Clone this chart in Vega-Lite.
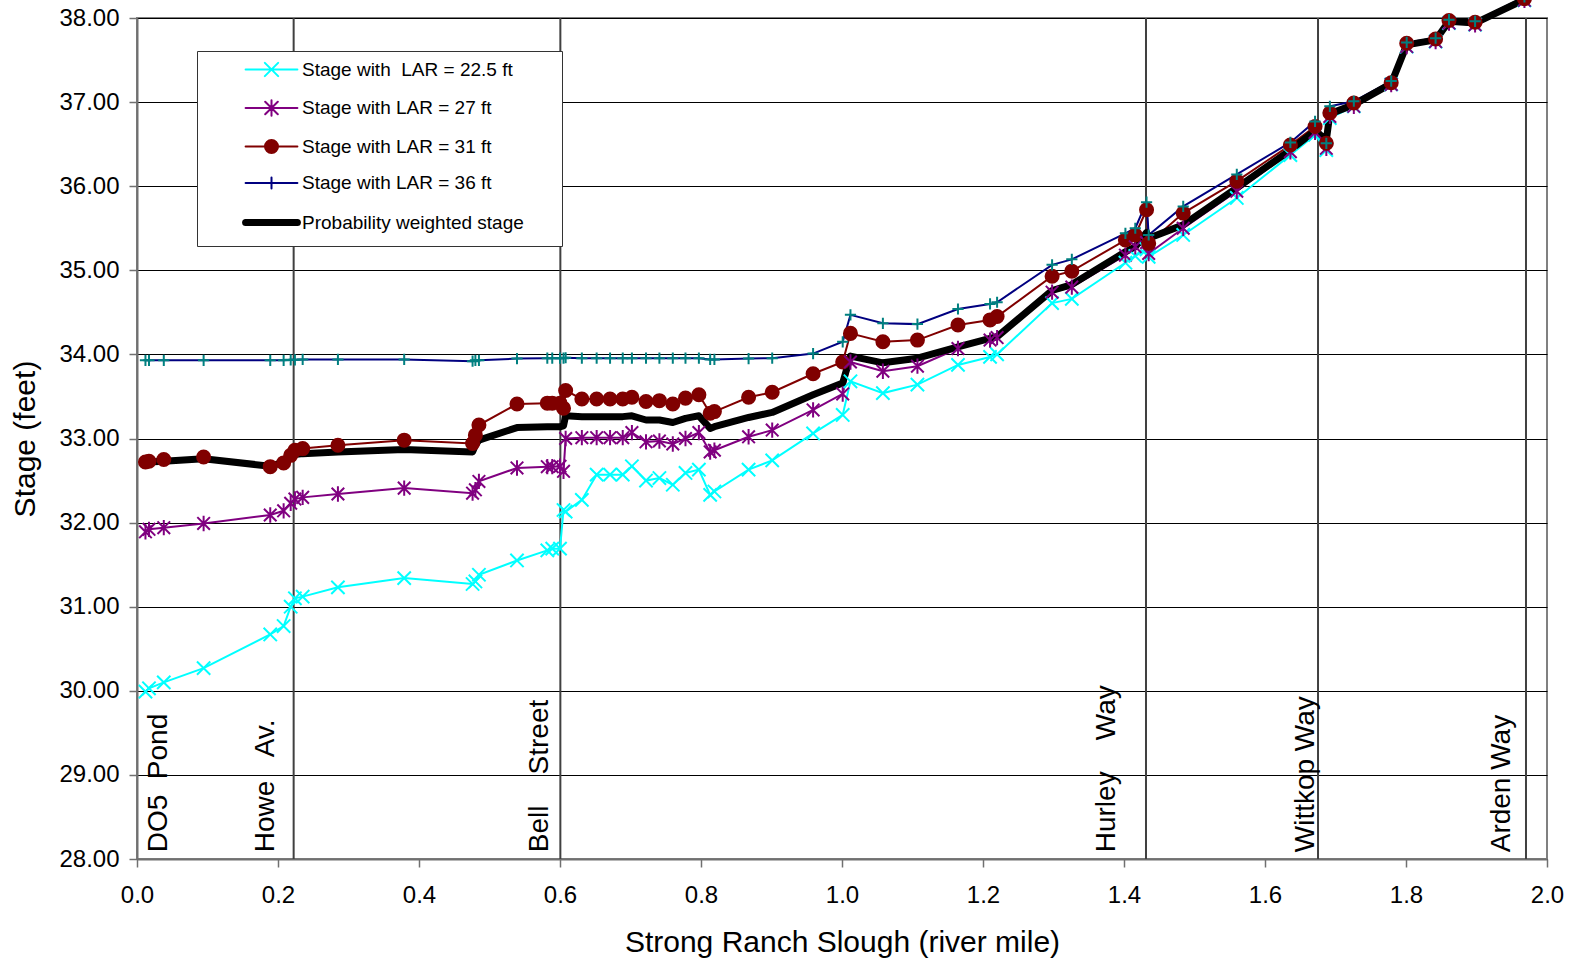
{
  "$schema": "https://vega.github.io/schema/vega-lite/v6.json",
  "width": 1410,
  "height": 841,
  "autosize": {"type": "none"},
  "padding": {"left": 137, "top": 18, "right": 30, "bottom": 102},
  "background": "white",
  "config": {
    "font": "Liberation Sans",
    "view": {"stroke": "#808080", "strokeWidth": 2},
    "axis": {
      "labelFont": "Liberation Sans",
      "titleFont": "Liberation Sans",
      "labelColor": "#000000",
      "titleColor": "#000000",
      "titleFontWeight": "normal",
      "labelFontSize": 24,
      "titleFontSize": 30,
      "tickSize": 8,
      "tickColor": "#707070",
      "tickWidth": 1.5,
      "domainColor": "#707070",
      "domainWidth": 2,
      "labelFlush": false,
      "labelOverlap": false
    },
    "axisX": {"grid": false, "labelPadding": 16, "titlePadding": 20},
    "axisY": {"grid": true, "gridColor": "#000000", "gridWidth": 1, "labelPadding": 10, "titlePadding": 18},
    "legend": {"labelFont": "Liberation Sans", "titleFont": "Liberation Sans"}
  },
  "datasets": {
    "stages": [
      {"mile": 0.012, "s225": 29.99, "s27": 31.89, "s31": 32.72, "s36": 33.93, "pw": 32.72},
      {"mile": 0.017, "s225": 30.03, "s27": 31.92, "s31": 32.73, "s36": 33.93, "pw": 32.72},
      {"mile": 0.038, "s225": 30.10, "s27": 31.94, "s31": 32.75, "s36": 33.93, "pw": 32.73},
      {"mile": 0.0945, "s225": 30.27, "s27": 31.99, "s31": 32.78, "s36": 33.93, "pw": 32.76},
      {"mile": 0.189, "s225": 30.67, "s27": 32.09, "s31": 32.665, "s36": 33.93, "pw": 32.67},
      {"mile": 0.208, "s225": 30.77, "s27": 32.14, "s31": 32.71, "s36": 33.93, "pw": 32.72},
      {"mile": 0.218, "s225": 31.00, "s27": 32.23, "s31": 32.80, "s36": 33.935, "pw": 32.78},
      {"mile": 0.224, "s225": 31.10, "s27": 32.28, "s31": 32.86, "s36": 33.935, "pw": 32.81},
      {"mile": 0.235, "s225": 31.12, "s27": 32.30, "s31": 32.88, "s36": 33.94, "pw": 32.82},
      {"mile": 0.285, "s225": 31.23, "s27": 32.34, "s31": 32.92, "s36": 33.94, "pw": 32.84},
      {"mile": 0.379, "s225": 31.34, "s27": 32.41, "s31": 32.98, "s36": 33.94, "pw": 32.87},
      {"mile": 0.476, "s225": 31.27, "s27": 32.35, "s31": 32.94, "s36": 33.92, "pw": 32.84},
      {"mile": 0.480, "s225": 31.30, "s27": 32.39, "s31": 33.04, "s36": 33.93, "pw": 32.92},
      {"mile": 0.485, "s225": 31.38, "s27": 32.49, "s31": 33.16, "s36": 33.93, "pw": 32.98},
      {"mile": 0.539, "s225": 31.55, "s27": 32.65, "s31": 33.41, "s36": 33.95, "pw": 33.13},
      {"mile": 0.582, "s225": 31.67, "s27": 32.665, "s31": 33.42, "s36": 33.955, "pw": 33.14},
      {"mile": 0.589, "s225": 31.69, "s27": 32.665, "s31": 33.42, "s36": 33.955, "pw": 33.14},
      {"mile": 0.600, "s225": 31.69, "s27": 32.67, "s31": 33.42, "s36": 33.955, "pw": 33.14},
      {"mile": 0.605, "s225": 32.15, "s27": 32.61, "s31": 33.36, "s36": 33.955, "pw": 33.15},
      {"mile": 0.608, "s225": 32.13, "s27": 33.00, "s31": 33.57, "s36": 33.96, "pw": 33.27},
      {"mile": 0.631, "s225": 32.27, "s27": 33.01, "s31": 33.47, "s36": 33.955, "pw": 33.26},
      {"mile": 0.652, "s225": 32.57, "s27": 33.01, "s31": 33.47, "s36": 33.955, "pw": 33.26},
      {"mile": 0.671, "s225": 32.57, "s27": 33.01, "s31": 33.47, "s36": 33.955, "pw": 33.26},
      {"mile": 0.689, "s225": 32.57, "s27": 33.01, "s31": 33.47, "s36": 33.955, "pw": 33.26},
      {"mile": 0.702, "s225": 32.67, "s27": 33.07, "s31": 33.49, "s36": 33.955, "pw": 33.27},
      {"mile": 0.722, "s225": 32.50, "s27": 32.96, "s31": 33.44, "s36": 33.955, "pw": 33.22},
      {"mile": 0.741, "s225": 32.53, "s27": 32.97, "s31": 33.45, "s36": 33.955, "pw": 33.22},
      {"mile": 0.760, "s225": 32.45, "s27": 32.935, "s31": 33.41, "s36": 33.955, "pw": 33.19},
      {"mile": 0.778, "s225": 32.59, "s27": 33.00, "s31": 33.48, "s36": 33.955, "pw": 33.24},
      {"mile": 0.797, "s225": 32.63, "s27": 33.07, "s31": 33.52, "s36": 33.955, "pw": 33.27},
      {"mile": 0.813, "s225": 32.33, "s27": 32.84, "s31": 33.30, "s36": 33.94, "pw": 33.12},
      {"mile": 0.819, "s225": 32.37, "s27": 32.86, "s31": 33.32, "s36": 33.94, "pw": 33.14},
      {"mile": 0.8675, "s225": 32.63, "s27": 33.02, "s31": 33.49, "s36": 33.95, "pw": 33.25},
      {"mile": 0.901, "s225": 32.74, "s27": 33.10, "s31": 33.55, "s36": 33.955, "pw": 33.31},
      {"mile": 0.959, "s225": 33.06, "s27": 33.34, "s31": 33.77, "s36": 34.01, "pw": 33.52},
      {"mile": 1.001, "s225": 33.28, "s27": 33.53, "s31": 33.91, "s36": 34.15, "pw": 33.66},
      {"mile": 1.012, "s225": 33.68, "s27": 33.91, "s31": 34.25, "s36": 34.47, "pw": 33.98},
      {"mile": 1.058, "s225": 33.54, "s27": 33.80, "s31": 34.15, "s36": 34.37, "pw": 33.90},
      {"mile": 1.107, "s225": 33.64, "s27": 33.86, "s31": 34.17, "s36": 34.36, "pw": 33.955},
      {"mile": 1.1645, "s225": 33.875, "s27": 34.07, "s31": 34.35, "s36": 34.54, "pw": 34.09},
      {"mile": 1.210, "s225": 33.97, "s27": 34.17, "s31": 34.41, "s36": 34.60, "pw": 34.19},
      {"mile": 1.220, "s225": 34.00, "s27": 34.20, "s31": 34.45, "s36": 34.62, "pw": 34.21},
      {"mile": 1.298, "s225": 34.61, "s27": 34.74, "s31": 34.93, "s36": 35.065, "pw": 34.76},
      {"mile": 1.326, "s225": 34.66, "s27": 34.80, "s31": 34.99, "s36": 35.13, "pw": 34.83},
      {"mile": 1.402, "s225": 35.09, "s27": 35.18, "s31": 35.36, "s36": 35.44, "pw": 35.22},
      {"mile": 1.416, "s225": 35.17, "s27": 35.28, "s31": 35.42, "s36": 35.50, "pw": 35.28},
      {"mile": 1.432, "s225": 35.25, "s27": 35.33, "s31": 35.72, "s36": 35.81, "pw": 35.45},
      {"mile": 1.435, "s225": 35.16, "s27": 35.20, "s31": 35.32, "s36": 35.42, "pw": 35.38},
      {"mile": 1.484, "s225": 35.42, "s27": 35.50, "s31": 35.68, "s36": 35.76, "pw": 35.54},
      {"mile": 1.560, "s225": 35.86, "s27": 35.94, "s31": 36.06, "s36": 36.14, "pw": 35.98},
      {"mile": 1.636, "s225": 36.37, "s27": 36.41, "s31": 36.49, "s36": 36.52, "pw": 36.43},
      {"mile": 1.671, "s225": 36.61, "s27": 36.64, "s31": 36.71, "s36": 36.77, "pw": 36.66},
      {"mile": 1.687, "s225": 36.43, "s27": 36.45, "s31": 36.51, "s36": 36.51, "pw": 36.55},
      {"mile": 1.692, "s225": 36.81, "s27": 36.83, "s31": 36.87, "s36": 36.95, "pw": 36.86},
      {"mile": 1.726, "s225": 36.95, "s27": 36.95, "s31": 36.99, "s36": 37.01, "pw": 36.97},
      {"mile": 1.779, "s225": 37.21, "s27": 37.21, "s31": 37.23, "s36": 37.25, "pw": 37.22},
      {"mile": 1.801, "s225": 37.66, "s27": 37.66, "s31": 37.70, "s36": 37.71, "pw": 37.68},
      {"mile": 1.842, "s225": 37.72, "s27": 37.72, "s31": 37.75, "s36": 37.76, "pw": 37.74},
      {"mile": 1.861, "s225": 37.94, "s27": 37.94, "s31": 37.97, "s36": 37.98, "pw": 37.96},
      {"mile": 1.898, "s225": 37.92, "s27": 37.92, "s31": 37.95, "s36": 37.96, "pw": 37.94},
      {"mile": 1.968, "s225": 38.21, "s27": 38.21, "s31": 38.23, "s36": 38.25, "pw": 38.22}
    ],
    "roads": [
      {"road": "DO5\u00a0\u00a0Pond", "line_mile": null, "label_mile": 0.0426},
      {"road": "Howe\u00a0\u00a0\u00a0Av.", "line_mile": 0.2222, "label_mile": 0.1938},
      {"road": "Bell\u00a0\u00a0\u00a0\u00a0Street", "line_mile": 0.6005, "label_mile": 0.5824},
      {"road": "Hurley\u00a0\u00a0\u00a0\u00a0Way", "line_mile": 1.4312, "label_mile": 1.3877},
      {"road": "Wittkop Way", "line_mile": 1.6752, "label_mile": 1.669},
      {"road": "Arden Way", "line_mile": 1.9702, "label_mile": 1.948}
    ]
  },
  "layer": [
    {
      "data": {"name": "roads"},
      "transform": [{"filter": {"field": "line_mile", "valid": true}}],
      "mark": {"type": "rule", "color": "#404040", "strokeWidth": 2},
      "encoding": {
        "x": {"field": "line_mile", "type": "quantitative", "title": "Strong Ranch Slough (river mile)",
              "scale": {"domain": [0, 2], "nice": false},
              "axis": {"values": [0, 0.2, 0.4, 0.6, 0.8, 1.0, 1.2, 1.4, 1.6, 1.8, 2.0], "format": ".1f"}}
      }
    },
    {
      "data": {"name": "stages"},
      "transform": [
        {"fold": ["s225", "s27", "s31", "s36", "pw"], "as": ["series", "stage"]},
        {"filter": "datum.series != 'pw'"}
      ],
      "mark": {"type": "line", "strokeWidth": 2},
      "encoding": {
        "x": {"field": "mile", "type": "quantitative", "title": "Strong Ranch Slough (river mile)"},
        "y": {"field": "stage", "type": "quantitative", "title": "Stage (feet)",
              "scale": {"domain": [28, 38], "nice": false},
              "axis": {"values": [28, 29, 30, 31, 32, 33, 34, 35, 36, 37, 38], "format": ".2f"}},
        "stroke": {
          "field": "series", "type": "nominal",
          "scale": {"domain": ["s225", "s27", "s31", "s36", "pw"], "range": ["#00FFFF", "#800080", "#800000", "#000080", "#000000"]},
          "legend": {
            "orient": "none", "legendX": 60, "legendY": 33,
            "title": "\u00a0", "titleOrient": "right", "titlePadding": 29, "titleFontSize": 19,
            "symbolType": "M4.3,0L11.7,0", "symbolSize": 196, "symbolStrokeWidth": 2,
            "labelFontSize": 19, "labelColor": "#000000", "labelOffset": 77, "labelLimit": 400,
            "rowPadding": 14.5, "padding": 9, "strokeColor": "#333333", "fillColor": "#ffffff",
            "labelExpr": "datum.value == 's225' ? 'Stage with\u00a0 LAR = 22.5 ft' : datum.value == 's27' ? 'Stage with LAR = 27 ft' : datum.value == 's31' ? 'Stage with LAR = 31 ft' : datum.value == 's36' ? 'Stage with LAR = 36 ft' : 'Probability weighted stage'",
            "encode": {"symbols": {"update": {
              "shape": {"signal": "datum.value == 's225' ? 'M4.3,0L11.7,0M7.05,-0.95L8.95,0.95M7.05,0.95L8.95,-0.95' : datum.value == 's27' ? 'M4.3,0L11.7,0M7.1,-0.9L8.9,0.9M7.1,0.9L8.9,-0.9M8,-1.1L8,1.1' : datum.value == 's31' ? 'M4.3,0L11.7,0M8.93,0A0.93,0.93,0,1,1,7.07,0A0.93,0.93,0,1,1,8.93,0Z' : datum.value == 's36' ? 'M4.3,0L11.7,0M7.2,0L8.8,0M8,-0.8L8,0.8' : 'M4.3,0L11.7,0'"},
              "fill": {"signal": "datum.value == 's31' ? '#800000' : 'transparent'"},
              "strokeWidth": {"signal": "datum.value == 'pw' ? 7 : 2"},
              "strokeCap": {"value": "round"}
            }}}
          }
        }
      }
    },
    {
      "data": {"name": "stages"},
      "transform": [
        {"fold": ["s225", "s27", "s31", "s36", "pw"], "as": ["series", "stage"]},
        {"filter": "datum.series == 'pw'"}
      ],
      "mark": {"type": "line", "strokeWidth": 7, "strokeJoin": "round", "strokeCap": "round"},
      "encoding": {
        "x": {"field": "mile", "type": "quantitative", "title": "Strong Ranch Slough (river mile)"},
        "y": {"field": "stage", "type": "quantitative", "title": "Stage (feet)"},
        "stroke": {"field": "series", "type": "nominal"}
      }
    },
    {
      "data": {"name": "stages"},
      "transform": [
        {"fold": ["s225", "s27", "s31", "s36"], "as": ["pseries", "stage"]}
      ],
      "mark": {"type": "point", "filled": false, "strokeWidth": 2, "size": 196, "opacity": 1},
      "encoding": {
        "x": {"field": "mile", "type": "quantitative", "title": "Strong Ranch Slough (river mile)"},
        "y": {"field": "stage", "type": "quantitative", "title": "Stage (feet)"},
        "color": {
          "field": "pseries", "type": "nominal",
          "scale": {"domain": ["s225", "s27", "s31", "s36"], "range": ["#00FFFF", "#800080", "#800000", "#008080"]},
          "legend": null
        },
        "shape": {
          "field": "pseries", "type": "nominal",
          "scale": {"domain": ["s225", "s27", "s31", "s36"],
                    "range": ["M-0.95,-0.95L0.95,0.95M-0.95,0.95L0.95,-0.95", "M-0.9,-0.9L0.9,0.9M-0.9,0.9L0.9,-0.9M0,-1.1L0,1.1", "M0.93,0A0.93,0.93,0,1,1,-0.93,0A0.93,0.93,0,1,1,0.93,0Z", "M-0.8,0L0.8,0M0,-0.8L0,0.8"]},
          "legend": null
        },
        "fill": {
          "field": "pseries", "type": "nominal",
          "scale": {"domain": ["s225", "s27", "s31", "s36"], "range": ["transparent", "transparent", "#800000", "transparent"]},
          "legend": null
        }
      }
    },
    {
      "data": {"name": "roads"},
      "mark": {"type": "text", "angle": 270, "align": "left", "baseline": "alphabetic", "fontSize": 28, "color": "#000000"},
      "encoding": {
        "x": {"field": "label_mile", "type": "quantitative", "title": "Strong Ranch Slough (river mile)"},
        "y": {"datum": 28.08, "type": "quantitative", "title": "Stage (feet)"},
        "text": {"field": "road"}
      }
    }
  ]
}
